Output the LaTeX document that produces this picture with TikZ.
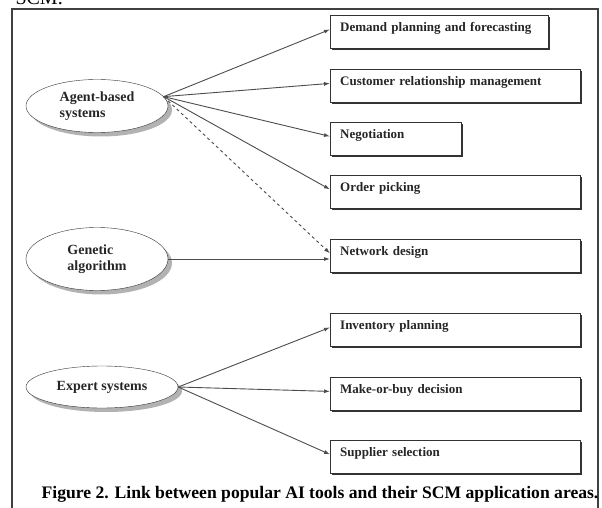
\documentclass[tikz,border=0pt]{standalone}
\usepackage{fontspec}
\setmainfont{Liberation Serif}
\usetikzlibrary{%
    arrows.meta,
    positioning,
    shadows,
    shapes.geometric
}
\tikzset{
    area/.style={rectangle, draw=black!80, fill=white, anchor=north west,
                 minimum height=33pt, inner xsep=10pt, inner ysep=0pt,
                 text height=9pt, text depth=9pt, align=left, text=black!85,
                 font=\fontsize{13}{15}\selectfont\bfseries,
                 drop shadow={shadow xshift=2pt, shadow yshift=-2pt,
                              fill=black!80, opacity=1}},
    tool/.style={ellipse, draw=black!80, fill=white, inner sep=0pt,
                 align=left, text=black!85,
                 font=\fontsize{14}{16}\selectfont\bfseries,
                 drop shadow={shadow xshift=4pt, shadow yshift=-4pt,
                              fill=black!30, opacity=1}},
    link/.style={draw=black!70, line width=0.9pt,
                 -{Latex[length=6pt,width=4pt]}},
    frame/.style={draw=black!75, line width=1.2pt}
}

\begin{document}
\begin{tikzpicture}[x=1pt, y=-1pt]
    \useasboundingbox (0,0) rectangle (602,508);
    \node (prev) [anchor=base west, font=\fontsize{20}{22}\selectfont] at (12,5) {SCM.};
    \draw[frame] (12,9) rectangle (598,530);

    % AI tools
    \node (agent)   [tool, minimum width=142pt, minimum height=53pt] at (97,106) {Agent-based\\systems};
    \node (genetic) [tool, minimum width=142pt, minimum height=63pt] at (97,259) {Genetic\\algorithm};
    \node (expert)  [tool, minimum width=152pt, minimum height=42pt] at (102,387) {Expert systems};

    % SCM application areas
    \node (demand)      [area, text width=198pt] at (330,15)  {Demand planning and forecasting};
    \node (customer)    [area, text width=230pt] at (330,69)  {Customer relationship management};
    \node (negotiation) [area, text width=111pt] at (330,122) {Negotiation};
    \node (picking)     [area, text width=230pt] at (330,175) {Order picking};
    \node (network)     [area, text width=230pt] at (330,239) {Network design};
    \node (inventory)   [area, text width=230pt] at (330,313) {Inventory planning};
    \node (makebuy)     [area, text width=230pt] at (330,377) {Make-or-buy decision};
    \node (supplier)    [area, text width=230pt] at (330,440) {Supplier selection};

    \foreach \Source/\Target in {%
        agent.8/demand,
        agent.8/customer,
        agent.8/negotiation,
        agent.8/picking,
        expert.east/inventory,
        expert.east/makebuy,
        expert.east/supplier%
    }
    \draw[link] (\Source) -- (\Target.mid west);
    \draw[link, dashed] (agent.8) -- (network.mid west);
    \draw[link] (genetic.east) -- (genetic.east -| network.west);

    \node (caption) [font=\fontsize{17.6}{20}\selectfont\bfseries] at (320,494)
        {Figure 2. Link between popular AI tools and their SCM application areas.};
\end{tikzpicture}
\end{document}
